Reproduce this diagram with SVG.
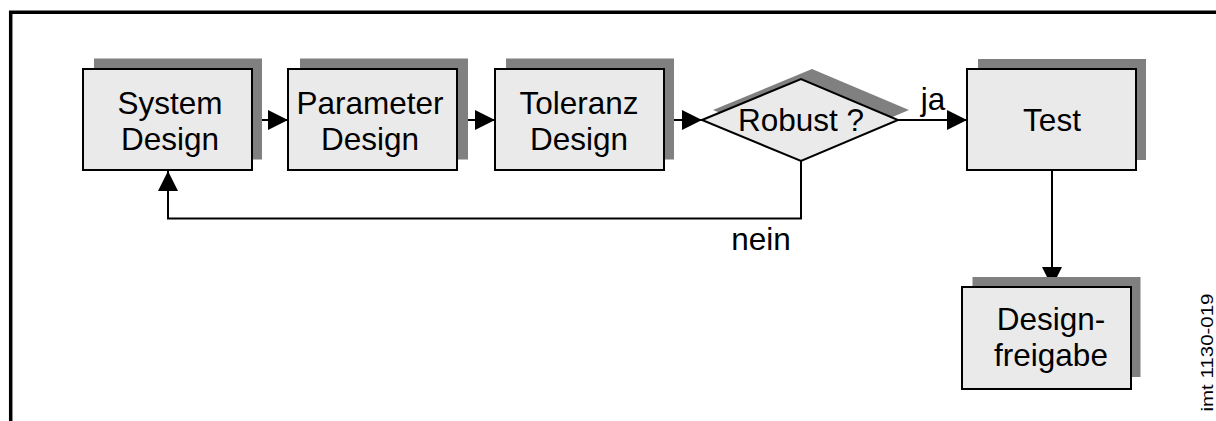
<svg xmlns="http://www.w3.org/2000/svg" width="1216" height="421" viewBox="0 0 1216 421">
  <style>
    .shadow { fill: #808080; stroke: none; }
    .box { fill: #eaeaea; stroke: #000; stroke-width: 2; }
    .label { font-family: "Liberation Sans", Arial, sans-serif; font-size: 31.5px; fill: #000; text-anchor: middle; }
    .line { fill: none; stroke: #000; stroke-width: 2; }
    .frame { fill: none; stroke: #000; stroke-width: 3.5; }
    .ref { font-family: "Liberation Sans", Arial, sans-serif; font-size: 17px; fill: #000; }
  </style>
  <defs>
    <marker id="arrow" viewBox="0 0 20 20" refX="20" refY="10" markerWidth="20" markerHeight="20" markerUnits="userSpaceOnUse" orient="auto">
      <path d="M0,0 L20,10 L0,20 Z" fill="#000"/>
    </marker>
  </defs>

  <rect width="1216" height="421" fill="#fff"/>

  <!-- open frame: left and top edges -->
  <path class="frame" d="M10.7,421 V12.3 H1216"/>

  <!-- connectors -->
  <g id="connectors">
    <line class="line" x1="252" y1="120" x2="288" y2="120" marker-end="url(#arrow)"/>
    <line class="line" x1="457" y1="120" x2="495" y2="120" marker-end="url(#arrow)"/>
    <line class="line" x1="664" y1="120" x2="702" y2="120" marker-end="url(#arrow)"/>
    <line class="line" x1="898" y1="120" x2="967" y2="120" marker-end="url(#arrow)"/>
    <polyline class="line" points="801,161 801,218.5 168,218.5 168,171" marker-end="url(#arrow)"/>
    <line class="line" x1="1052" y1="170" x2="1052" y2="287" marker-end="url(#arrow)"/>
    <text class="label" x="933" y="110">ja</text>
    <text class="label" x="761" y="250">nein</text>
  </g>

  <g id="system-design">
    <rect class="shadow" x="94" y="58.5" width="168" height="101"/>
    <rect class="box" x="83" y="69" width="169" height="101"/>
    <text class="label" x="170" y="114">System</text>
    <text class="label" x="170" y="150">Design</text>
  </g>

  <g id="parameter-design">
    <rect class="shadow" x="300" y="58.5" width="168" height="101"/>
    <rect class="box" x="288" y="69" width="169" height="101"/>
    <text class="label" x="370" y="114">Parameter</text>
    <text class="label" x="370" y="150">Design</text>
  </g>

  <g id="toleranz-design">
    <rect class="shadow" x="506" y="58.5" width="168" height="101"/>
    <rect class="box" x="495" y="69" width="169" height="101"/>
    <text class="label" x="579" y="114">Toleranz</text>
    <text class="label" x="579" y="150">Design</text>
  </g>

  <g id="robust">
    <polygon class="shadow" points="713,110 812,69 909,110 812,151"/>
    <polygon class="box" points="702,120 801,79 898,120 801,161"/>
    <text class="label" x="801" y="131">Robust ?</text>
  </g>

  <g id="test">
    <rect class="shadow" x="978" y="59" width="168" height="101"/>
    <rect class="box" x="967" y="69" width="169" height="101"/>
    <text class="label" x="1052" y="131">Test</text>
  </g>

  <g id="designfreigabe">
    <rect class="shadow" x="972.5" y="277" width="168" height="100"/>
    <rect class="box" x="962" y="287" width="169" height="102"/>
    <text class="label" x="1051" y="330">Design-</text>
    <text class="label" x="1051" y="366">freigabe</text>
  </g>

  <text class="ref" transform="translate(1212.5,411.5) rotate(-90)" textLength="118" lengthAdjust="spacingAndGlyphs">imt 1130-019</text>
</svg>
